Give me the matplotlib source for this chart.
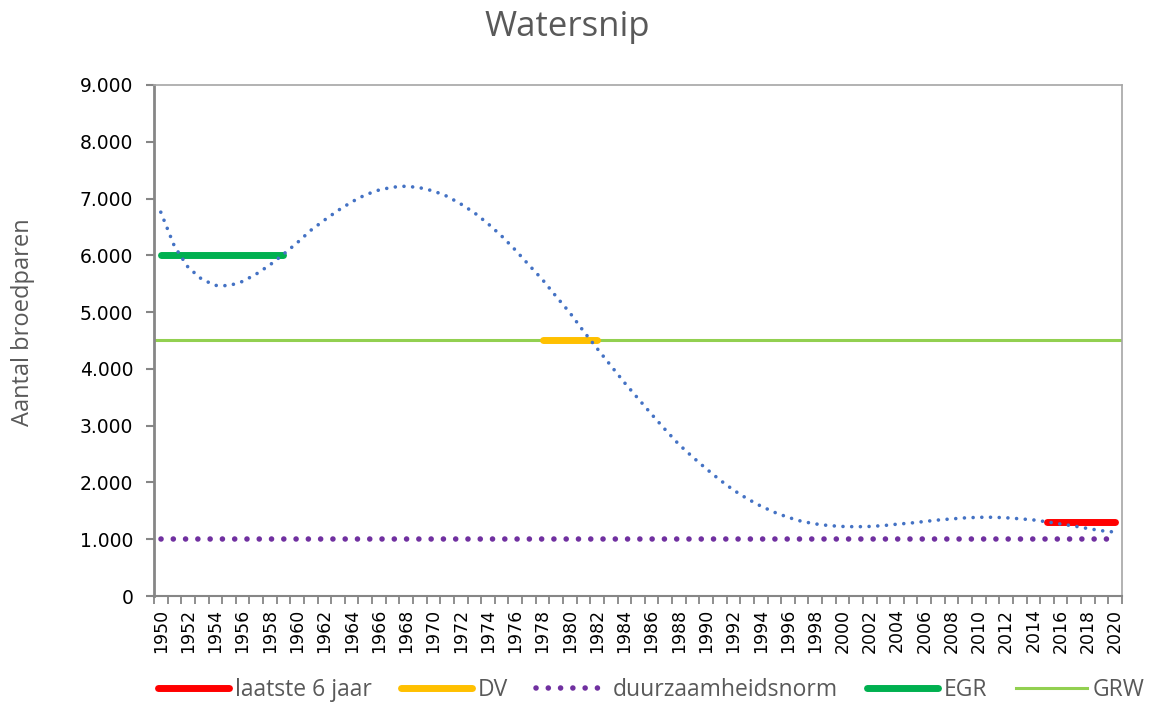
import numpy as np
import matplotlib.pyplot as plt
from matplotlib.ticker import FuncFormatter, FixedLocator, MultipleLocator

years = list(range(1950, 2021))
# trendlijn
trend = [6760, 6160, 5790, 5580, 5470, 5465, 5540, 5670, 5830, 6020,
         6220, 6440, 6620, 6790, 6940, 7065, 7150, 7200, 7218, 7190,
         7133, 7040, 6905, 6750, 6557, 6340, 6095, 5830, 5570, 5275,
         4990, 4665, 4360, 4060, 3760, 3480, 3200, 2930, 2670, 2450,
         2242, 2045, 1866, 1715, 1585, 1475, 1386, 1315, 1270, 1240,
         1225, 1220, 1225, 1240, 1265, 1285, 1312, 1338, 1358, 1376,
         1386, 1387, 1378, 1360, 1340, 1306, 1268, 1232, 1188, 1150,
         1125]

laatste_years = [2015, 2020]
laatste = [1300, 1300]
dv_years = [1978, 1982]
dv = [4500, 4500]
egr_years = [1950, 1959]
egr = [6000, 6000]
grw = 4500
norm = [1000] * len(years)

grey = "#595959"
plt.rcParams['font.family'] = ['Open Sans', 'DejaVu Sans']

fig = plt.figure(figsize=(11.49, 7.04), dpi=100)
ax = fig.add_axes([0.134, 0.1534, 0.8425, 0.7259])

ax.plot(years, trend, color="#4472C4", lw=2.6, linestyle=(0, (0.01, 2.4)),
        dash_capstyle='round', zorder=4)
l1, = ax.plot(laatste_years, laatste, color="#FF0000", lw=5, solid_capstyle='round',
              label="laatste 6 jaar", zorder=3)
l2, = ax.plot(dv_years, dv, color="#FFC000", lw=5, solid_capstyle='round',
              label="DV", zorder=3)
l3, = ax.plot(years, norm, color="#7030A0", lw=4, linestyle=(0, (0.01, 2.2)),
              dash_capstyle='round', label="duurzaamheidsnorm", zorder=3)
l4, = ax.plot(egr_years, egr, color="#00B050", lw=5, solid_capstyle='round',
              label="EGR", zorder=3)
l5 = ax.axhline(grw, color="#92D050", lw=2.2, label="GRW", zorder=2)

# categorie-as: tickmarks tussen de jaren, labels om de 2 jaar
ax.set_xlim(years[0] - 0.5, years[-1] + 0.5)
ax.set_ylim(0, 9000)
ax.xaxis.set_major_locator(FixedLocator(years[::2]))
ax.xaxis.set_minor_locator(FixedLocator([y - 0.5 for y in years] + [years[-1] + 0.5]))
ax.yaxis.set_major_locator(MultipleLocator(1000))
ax.yaxis.set_major_formatter(FuncFormatter(lambda v, p: f"{int(v):,}".replace(",", ".")))
ax.tick_params(axis='x', which='major', length=0, pad=9, labelrotation=90,
               labelsize=12.5, labelcolor="black", labelfontfamily='DejaVu Sans')
ax.tick_params(axis='x', which='minor', direction='out', length=6, width=1.3,
               color="#868686")
ax.tick_params(axis='y', direction='out', length=6, width=1.5, color="#868686", pad=9,
               labelsize=13.5, labelcolor="black", labelfontfamily='DejaVu Sans')
for s in ax.spines.values():
    s.set_color("#A6A6A6")
    s.set_linewidth(1.2)
ax.spines['left'].set_color("#868686")
ax.spines['left'].set_linewidth(2)
ax.spines['bottom'].set_color("#868686")
ax.spines['bottom'].set_linewidth(1.5)

fig.text(0.494, 0.962, "Watersnip", ha='center', va='center', fontsize=25, color=grey)
fig.text(0.02, 0.543, "Aantal broedparen", rotation=90, ha='center', va='center',
         fontsize=17, color=grey)

leg = fig.legend(handles=[l1, l2, l3, l4, l5], loc='center', bbox_to_anchor=(0.567, 0.02),
                 ncol=5, frameon=False, fontsize=16.5, handlelength=3.1, handletextpad=0.25,
                 columnspacing=1.25, labelcolor=grey)

fig.savefig("out.png", dpi=100)
